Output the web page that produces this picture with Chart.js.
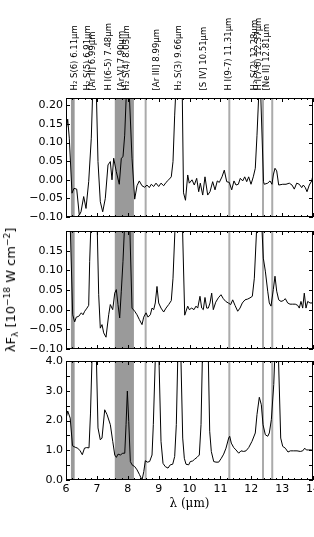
<!DOCTYPE html>
<html><head><meta charset="utf-8">
<script src="https://cdn.jsdelivr.net/npm/chart.js@4.4.1/dist/chart.umd.min.js"></script>
<style>
html,body{margin:0;padding:0;background:#fff;}
#wrap{position:relative;width:314px;height:537px;overflow:hidden;background:#fff;}
canvas{position:absolute;left:0;top:0;}
#ytitle{position:absolute;left:11px;top:290px;transform:translate(-50%,-50%) rotate(-90deg);white-space:nowrap;font-family:'DejaVu Sans';font-size:13px;color:#000;line-height:16px;}
#ytitle .sb{font-size:9px;vertical-align:-3px;}
#ytitle .sp{font-size:9px;vertical-align:5px;}
</style></head><body>
<div id="wrap">
<canvas id="c1" width="330" height="537"></canvas>
<canvas id="c2" width="330" height="537"></canvas>
<canvas id="c3" width="330" height="537"></canvas>
<div id="ytitle">λF<span class="sb">λ</span> [10<span class="sp">−18</span> W cm<span class="sp">−2</span>]</div>
</div>
<script>
// ---------- data ----------
const wl1 = [6.00,6.055,6.107,6.194,6.259,6.347,6.431,6.486,6.573,6.648,6.735,6.819,6.93,7.036,7.111,7.189,7.273,7.360,7.435,7.490,
  7.545,7.629,7.726,7.791,7.846,7.901,8.00,8.138,8.225,8.300,8.374,8.462,8.549,8.623,8.698,8.763,8.840,8.915,9.002,9.077,
  9.164,9.239,9.326,9.410,9.466,9.520,9.65,9.74,9.806,9.870,9.942,9.993,10.081,10.155,10.233,10.298,10.350,10.428,10.502,10.589,
  10.664,10.751,10.826,10.900,10.965,11.053,11.127,11.205,11.289,11.367,11.441,11.506,11.581,11.645,11.723,11.788,11.853,11.917,11.992,12.066,
  12.131,12.186,12.28,12.397,12.423,12.533,12.607,12.672,12.714,12.769,12.824,12.889,13.019,13.126,13.232,13.320,13.394,13.472,13.556,13.634,
  13.686,13.751,13.806,13.880,13.958,14.0];
const flux1 = [0.13,0.163,0.112,-0.036,-0.023,-0.025,-0.095,-0.086,-0.045,-0.077,-0.005,0.112,0.42,0.049,-0.059,-0.086,-0.05,0.04,0.049,0.0,
  0.058,0.022,-0.012,0.058,0.062,0.12,0.33,0.058,-0.052,-0.016,-0.003,-0.016,-0.020,-0.014,-0.021,-0.012,-0.018,-0.009,-0.018,-0.009,
  -0.016,-0.007,0.0,0.008,0.049,0.174,0.4,0.4,-0.035,-0.055,0.013,-0.009,0.0,-0.014,0.004,-0.032,-0.009,-0.041,0.008,-0.041,
  -0.032,-0.005,-0.027,-0.003,-0.007,0.008,0.026,-0.005,-0.007,-0.027,-0.003,-0.014,-0.012,0.004,-0.003,0.008,-0.005,0.008,-0.012,0.008,
  0.031,0.12,0.30,-0.005,-0.012,-0.009,-0.003,-0.012,0.013,0.031,0.024,-0.014,-0.012,-0.012,-0.009,-0.014,-0.025,-0.009,-0.012,-0.021,
  -0.014,-0.021,-0.032,-0.014,-0.003,0.013];

const wl2 = [6.00,6.217,6.281,6.334,6.411,6.496,6.551,6.606,6.680,6.735,6.767,6.93,7.059,7.111,7.166,7.221,7.296,7.383,7.435,7.513,
  7.578,7.630,7.684,7.739,7.791,7.846,8.00,8.138,8.225,8.300,8.374,8.462,8.517,8.592,8.656,8.731,8.786,8.840,8.892,8.947,
  9.002,9.077,9.164,9.239,9.326,9.410,9.466,9.68,9.845,9.942,9.993,10.071,10.146,10.211,10.266,10.340,10.395,10.447,10.502,10.557,
  10.609,10.664,10.719,10.771,10.849,10.933,11.020,11.095,11.173,11.257,11.335,11.399,11.474,11.561,11.636,11.711,11.798,11.886,11.960,12.035,
  12.100,12.26,12.391,12.456,12.533,12.585,12.640,12.714,12.769,12.824,12.889,12.964,13.038,13.103,13.180,13.255,13.342,13.426,13.504,13.556,
  13.611,13.666,13.718,13.773,13.828,13.903,13.968,14.0];
const flux2 = [0.60,-0.013,-0.031,-0.019,-0.017,-0.008,-0.013,-0.004,0.004,0.011,0.123,0.5,0.038,-0.047,-0.038,-0.059,-0.07,-0.013,0.013,0.0,
  0.042,0.051,0.013,-0.021,0.047,0.123,0.4,0.004,-0.004,-0.013,-0.025,-0.038,-0.019,-0.008,-0.019,-0.013,0.004,0.0,0.017,0.059,
  0.017,0.004,-0.006,0.004,0.013,0.023,0.08,0.5,-0.014,0.009,0.0,0.004,0.0,0.009,0.004,0.034,0.004,0.0,0.031,0.004,
  0.004,0.017,0.042,0.0,0.019,0.03,0.038,0.028,0.021,0.017,0.013,0.025,0.011,-0.004,0.004,0.017,0.025,0.027,0.03,0.034,
  0.08,0.35,0.131,0.098,0.047,0.017,0.009,0.051,0.085,0.047,0.025,0.021,0.023,0.028,0.017,0.014,0.014,0.014,0.011,0.004,
  0.021,0.004,0.042,0.004,0.021,0.017,0.017,0.02];

const wl3 = [6.00,6.055,6.136,6.211,6.298,6.379,6.460,6.528,6.599,6.670,6.745,6.794,6.92,7.036,7.111,7.166,7.254,7.329,7.436,7.514,
  7.579,7.631,7.686,7.760,7.838,7.903,7.945,7.987,8.032,8.084,8.139,8.227,8.302,8.376,8.464,8.519,8.57,8.633,8.708,8.786,
  8.828,8.957,9.077,9.142,9.216,9.304,9.378,9.456,9.520,9.573,9.67,9.780,9.832,9.887,9.974,10.026,10.104,10.169,10.243,10.318,
  10.373,10.518,10.654,10.706,10.784,10.858,10.945,11.030,11.107,11.182,11.269,11.302,11.354,11.432,11.506,11.594,11.668,11.756,11.830,11.918,
  12.024,12.131,12.186,12.261,12.326,12.381,12.456,12.534,12.586,12.651,12.729,12.83,12.954,13.019,13.103,13.190,13.265,13.375,13.482,13.589,
  13.667,13.732,13.784,13.862,13.946,14.0];
const flux3 = [2.05,2.32,2.08,1.15,1.10,1.07,0.98,0.85,1.07,1.09,1.08,2.25,7.0,1.75,1.35,1.41,2.36,2.2,1.86,1.30,
  0.84,0.76,0.87,0.84,0.90,0.90,1.86,2.99,1.97,0.62,0.51,0.45,0.34,0.19,0.0,0.28,0.65,0.6,0.62,0.84,
  1.86,6.3,1.30,0.56,0.45,0.40,0.51,0.53,0.79,1.86,6.5,1.41,0.73,0.53,0.51,0.62,0.64,0.70,0.76,0.84,
  1.86,9.2,1.64,0.96,0.62,0.60,0.60,0.73,0.87,1.07,1.41,1.47,1.24,1.09,1.01,0.90,0.98,0.96,0.98,1.09,
  1.30,1.58,2.2,2.78,2.53,1.86,1.52,1.47,1.58,2.03,3.21,6.0,1.41,1.13,1.07,0.94,0.98,0.98,0.98,0.96,
  0.98,1.07,1.01,1.01,1.01,1.0];

const xTicks = [6,7,8,9,10,11,12,13,14];
const xTickLabels = ['6','7','8','9','10','11','12','13','14'];
const yTicks1 = [-0.10,-0.05,0.00,0.05,0.10,0.15,0.20];
const yTickLabels1 = ['−0.10','−0.05','0.00','0.05','0.10','0.15','0.20'];
const yTicks2 = [-0.10,-0.05,0.00,0.05,0.10,0.15,0.20];
const yTickLabels2 = ['−0.10','−0.05','0.00','0.05','0.10','0.15',''];
const yTicks3 = [0,0.5,1.0,1.5,2.0,2.5,3.0,3.5,4.0];
const yTickLabels3 = ['0.0','0.5','1.0','1.5','2.0','2.5','3.0','3.5','4.0'];

const maskBands = [[6.16,6.28],[7.58,8.20]];
const maskLines = [8.58,11.29,12.38,12.68];

const lineLabels = ['H₂ S(6) 6.11μm','H₂ S(5) 6.91μm','[Ar II] 6.99μm','H I(6-5) 7.48μm','[Ar V] 7.90μm','H₂ S(4) 8.03μm',
  '[Ar III] 8.99μm','H₂ S(3) 9.66μm','[S IV] 10.51μm','H I(9-7) 11.31μm','H₂ S(2) 12.28μm','H I(7-6) 12.37μm','[Ne II] 12.81μm'];
const labelPos = [6.29,6.72,6.88,7.37,7.80,7.97,8.94,9.64,10.45,11.26,12.12,12.26,12.50];

// ---------- layout ----------
const W = 330, H = 537, PLOT_RIGHT = 313, PLOT_LEFT = 66;

const decor = {
  id: 'decor',
  beforeDatasetsDraw(chart) {
    const {ctx, chartArea: a} = chart; const x = chart.scales.x;
    ctx.save();
    ctx.beginPath(); ctx.rect(a.left, a.top, a.right - a.left, a.bottom - a.top); ctx.clip();
    ctx.fillStyle = '#9a9a9a';
    maskBands.forEach(([l, r]) => {
      const x0 = x.getPixelForValue(l), x1 = x.getPixelForValue(r);
      ctx.fillRect(x0, a.top, x1 - x0, a.bottom - a.top);
    });
    ctx.strokeStyle = '#ababab'; ctx.lineWidth = 2;
    maskLines.forEach(v => {
      const px = x.getPixelForValue(v);
      ctx.beginPath(); ctx.moveTo(px, a.top); ctx.lineTo(px, a.bottom); ctx.stroke();
    });
    ctx.restore();
  },
  afterDatasetsDraw(chart, args, opts) {
    const {ctx, chartArea: a} = chart; const x = chart.scales.x, y = chart.scales.y;
    ctx.save();
    ctx.strokeStyle = '#000'; ctx.lineWidth = 1;
    ctx.strokeRect(a.left + 0.5, a.top + 0.5, a.right - a.left - 1, a.bottom - a.top - 1);
    ctx.beginPath();
    for (let i = 0; i <= 40; i++) {
      const v = 6 + i * 0.2;
      const px = Math.round(x.getPixelForValue(v)) + 0.5;
      const len = (i % 5 === 0) ? 4 : 2;
      ctx.moveTo(px, a.bottom); ctx.lineTo(px, a.bottom - len);
      ctx.moveTo(px, a.top); ctx.lineTo(px, a.top + len);
    }
    (opts.yt || []).forEach(v => {
      const py = Math.round(y.getPixelForValue(v)) + 0.5;
      ctx.moveTo(a.left, py); ctx.lineTo(a.left + 4, py);
      ctx.moveTo(a.right, py); ctx.lineTo(a.right - 4, py);
    });
    ctx.stroke();
    if (opts.labels) {
      ctx.font = '8.5px "DejaVu Sans"';
      ctx.fillStyle = '#000'; ctx.textAlign = 'left'; ctx.textBaseline = 'middle';
      lineLabels.forEach((t, i) => {
        const px = x.getPixelForValue(labelPos[i]);
        ctx.save(); ctx.translate(px, 90.5); ctx.rotate(-Math.PI / 2); ctx.fillText(t, 0, 0); ctx.restore();
      });
    }
    ctx.restore();
  }
};

function makeChart(id, wl, flux, yMin, yMax, yt, ytl, top, bottom, showX, labels) {
  const pts = wl.map((w, i) => ({x: w, y: flux[i]}));
  return new Chart(document.getElementById(id), {
    type: 'line',
    data: {datasets: [{data: pts, borderColor: '#000', borderWidth: 1, pointRadius: 0, tension: 0, fill: false}]},
    options: {
      responsive: false, animation: false, devicePixelRatio: 1,
      layout: {padding: {top: top, bottom: showX ? 0 : H - bottom, left: 0, right: W - PLOT_RIGHT}},
      plugins: {legend: {display: false}, tooltip: {enabled: false}, decor: {yt: yt, labels: labels}},
      scales: {
        x: {
          type: 'linear', min: 6, max: 14, display: showX,
          grid: {display: false, drawTicks: false}, border: {display: false},
          afterBuildTicks: s => { s.ticks = xTicks.map(v => ({value: v})); },
          ticks: {callback: (v, i) => xTickLabels[i], padding: 3, maxRotation: 0, autoSkip: false,
                  font: {family: 'DejaVu Sans', size: 11}, color: '#000'},
          title: {display: showX, text: 'λ (μm)', font: {family: 'DejaVu Serif', size: 12}, color: '#000',
                  padding: {top: 0, bottom: 26}},
          afterFit: s => { s.height = showX ? H - bottom : 0; }
        },
        y: {
          type: 'linear', min: yMin, max: yMax,
          grid: {display: false, drawTicks: false}, border: {display: false},
          afterBuildTicks: s => { s.ticks = yt.map(v => ({value: v})); },
          ticks: {callback: (v, i) => ytl[i], padding: 3, font: {family: 'DejaVu Sans', size: 11}, color: '#000'},
          afterFit: s => { s.width = PLOT_LEFT; }
        }
      }
    },
    plugins: [decor]
  });
}

makeChart('c1', wl1, flux1, -0.10, 0.22, yTicks1, yTickLabels1, 98, 217, false, true);
makeChart('c2', wl2, flux2, -0.10, 0.20, yTicks2, yTickLabels2, 231, 349, false, false);
makeChart('c3', wl3, flux3, 0, 4.0, yTicks3, yTickLabels3, 361, 480, true, false);
</script>
</body></html>
